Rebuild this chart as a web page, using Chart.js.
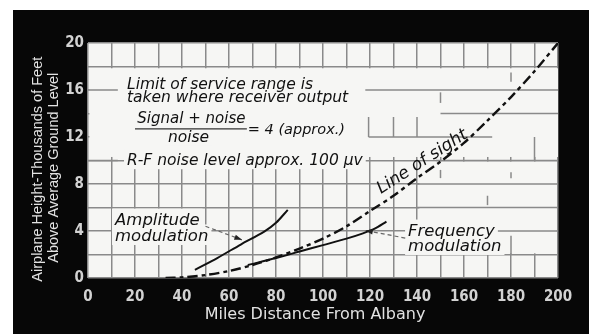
<!DOCTYPE html>
<html>
<head>
<meta charset="utf-8">
<script src="https://cdn.jsdelivr.net/npm/chart.js@4.4.1/dist/chart.umd.min.js"></script>
<style>
html,body{margin:0;padding:0;background:#fff;overflow:hidden}
canvas{display:block}
</style>
</head>
<body>
<canvas id="c" width="591" height="334"></canvas>
<script>
// Service range of AM and FM vs airplane height, with the line-of-sight limit.
var xTicks=[0,20,40,60,80,100,120,140,160,180,200];
var yTicks=[0,4,8,12,16,20];

var losMiles=[33,40,50,60,70,80,90,100,110,120,130,140,150,160,170,180,190,200];
var losFeet =[0,0.05,0.25,0.6,1.1,1.75,2.5,3.35,4.4,5.7,7.0,8.5,9.9,11.5,13.4,15.4,17.6,20];
var amMiles=[45.5,55,65,75,80,85];
var amFeet =[0.7,1.7,2.85,3.95,4.7,5.8];
var fmMiles=[68,80,90,100,110,117,122,127];
var fmFeet =[1.1,1.7,2.25,2.8,3.35,3.8,4.2,4.8];
// dashed pointers from the labels to their curves (tail, head)
var amPointer=[[50,4.4],[65.5,3.25]];
var fmPointer=[[135,3.4],[118,4.05]];

function zip(xs,ys){return xs.map(function(x,i){return {x:x,y:ys[i]};});}
function pts(a){return a.map(function(p){return {x:p[0],y:p[1]};});}

function ital(px){return "italic "+px+"px 'DejaVu Sans'";}
// lettering, anchored at left baseline in chart units (miles, thousand ft)
var notes=[
  {t:"Limit of service range is",x:16.6,y:16.1,s:15.5},
  {t:"taken where receiver output",x:16.6,y:15.0,s:15.5},
  {t:"Signal + noise",x:21,y:13.2,s:15},
  {t:"noise",x:34,y:11.6,s:15.5},
  {t:"= 4 (approx.)",x:68,y:12.25,s:14.5},
  {t:"R-F noise level approx. 100 \u03bcv",x:16.6,y:9.6,s:15.5},
  {t:"Amplitude",x:11.5,y:4.5,s:16.5},
  {t:"modulation",x:11.5,y:3.15,s:16.5},
  {t:"Frequency",x:136.2,y:3.57,s:16.5},
  {t:"modulation",x:136.2,y:2.3,s:16.5},
  {t:"Line of sight",x:124.7,y:7.15,s:17,rot:-33}
];
var fracBar=[[20,12.7],[67.6,12.7]];
// parts of the grid hidden behind the lettering
var blanks=[[0.6,10.3,200,17.85],[141,2.1,199.5,9.9]];
// grid fragments left showing inside the blank areas
var gridBits=[
  [[0,16],[12.7,16]],[[0,10],[12.7,10]],
  [[118,16],[200,16]],[[150,14],[200,14]],[[119.4,12],[172,12]],[[148,10],[200,10]],
  [[119.4,12],[119.4,13.7]],[[130,12],[130,13.7]],[[140,12],[140,13.7]],
  [[150,14.9],[150,15.8]],[[180,16.7],[180,17.5]],[[190,10],[190,12]],
  [[140,8],[200,8]],[[140,6],[200,6]],[[140,4],[200,4]],
  [[150,8.5],[150,9.2]],[[170,6.2],[170,7]],[[180,8.5],[180,9]],[[180,2],[180,3.6]]
];

var frame={
  id:'frame',
  beforeDraw:function(ch){
    var c=ch.ctx,a=ch.chartArea;
    c.save();
    c.fillStyle='#fff';c.fillRect(0,0,ch.width,ch.height);
    c.fillStyle='#070707';c.fillRect(13,10,576,324);
    c.fillStyle='#f6f6f4';c.fillRect(a.left,a.top,a.right-a.left,a.bottom-a.top);
    c.restore();
  },
  beforeDatasetsDraw:function(ch){
    var c=ch.ctx,X=ch.scales.x,Y=ch.scales.y;
    c.save();
    c.fillStyle='#f6f6f4';
    blanks.forEach(function(b){
      var x0=X.getPixelForValue(b[0]),x1=X.getPixelForValue(b[2]);
      var y0=Y.getPixelForValue(b[3]),y1=Y.getPixelForValue(b[1]);
      c.fillRect(x0,y0,x1-x0,y1-y0);
    });
    c.strokeStyle='#8a8a8a';c.lineWidth=1.5;
    gridBits.forEach(function(s){
      c.beginPath();
      c.moveTo(X.getPixelForValue(s[0][0]),Y.getPixelForValue(s[0][1]));
      c.lineTo(X.getPixelForValue(s[1][0]),Y.getPixelForValue(s[1][1]));
      c.stroke();
    });
    // plain ground under the labels
    notes.forEach(function(n){
      if(n.rot)return;
      c.font=ital(n.s);
      var w=c.measureText(n.t).width;
      c.fillRect(X.getPixelForValue(n.x)-3,Y.getPixelForValue(n.y)-n.s,w+6,n.s+4);
    });
    c.restore();
  },
  afterDatasetsDraw:function(ch){
    var c=ch.ctx,X=ch.scales.x,Y=ch.scales.y;
    c.save();
    c.fillStyle='#111';c.textBaseline='alphabetic';
    notes.forEach(function(n){
      var px=X.getPixelForValue(n.x),py=Y.getPixelForValue(n.y);
      c.save();c.translate(px,py);
      if(n.rot)c.rotate(n.rot*Math.PI/180);
      c.font=ital(n.s);
      c.fillText(n.t,0,0);
      c.restore();
    });
    c.strokeStyle='#333';c.lineWidth=1.3;
    c.beginPath();
    c.moveTo(X.getPixelForValue(fracBar[0][0]),Y.getPixelForValue(fracBar[0][1]));
    c.lineTo(X.getPixelForValue(fracBar[1][0]),Y.getPixelForValue(fracBar[1][1]));
    c.stroke();
    [amPointer,fmPointer].forEach(function(p){
      var x0=X.getPixelForValue(p[0][0]),y0=Y.getPixelForValue(p[0][1]);
      var x1=X.getPixelForValue(p[1][0]),y1=Y.getPixelForValue(p[1][1]);
      var ang=Math.atan2(y1-y0,x1-x0);
      c.fillStyle='#222';
      c.beginPath();
      c.moveTo(x1,y1);
      c.lineTo(x1-8*Math.cos(ang-0.35),y1-8*Math.sin(ang-0.35));
      c.lineTo(x1-8*Math.cos(ang+0.35),y1-8*Math.sin(ang+0.35));
      c.closePath();c.fill();
    });
    c.restore();
  }
};

var tickFont={family:"'Liberation Sans Narrow','DejaVu Sans Condensed',sans-serif",size:15,weight:'bold'};

new Chart(document.getElementById('c'),{
  type:'scatter',
  data:{datasets:[
    {label:'Line of sight',data:zip(losMiles,losFeet),showLine:true,borderColor:'#111',borderWidth:2.4,borderDash:[10,4,4,4],pointRadius:0,tension:0.3},
    {label:'Amplitude modulation',data:zip(amMiles,amFeet),showLine:true,borderColor:'#111',borderWidth:2,pointRadius:0,tension:0.3},
    {label:'Frequency modulation',data:zip(fmMiles,fmFeet),showLine:true,borderColor:'#111',borderWidth:2,pointRadius:0,tension:0.3},
    {label:'am pointer',data:pts(amPointer),showLine:true,borderColor:'#666',borderWidth:1.2,borderDash:[4,3],pointRadius:0},
    {label:'fm pointer',data:pts(fmPointer),showLine:true,borderColor:'#666',borderWidth:1.2,borderDash:[4,3],pointRadius:0}
  ]},
  options:{
    responsive:false,animation:false,devicePixelRatio:1,
    layout:{padding:{left:13,right:33,top:43,bottom:0}},
    plugins:{legend:{display:false},tooltip:{enabled:false}},
    scales:{
      x:{type:'linear',min:0,max:200,
        afterFit:function(s){s.height=56;},
        border:{display:false},
        grid:{color:'#8a8a8a',lineWidth:1.5,drawTicks:false},
        ticks:{stepSize:10,autoSkip:false,maxRotation:0,padding:10,color:'#d2d2d2',font:tickFont,
          callback:function(v){return xTicks.indexOf(v)>=0?String(v):'';}},
        title:{display:true,text:'Miles Distance From Albany\u2003',color:'#e2e2e2',
          font:{family:"'DejaVu Sans',sans-serif",size:16},padding:{top:0,bottom:10}}
      },
      y:{type:'linear',min:0,max:20,
        afterFit:function(s){s.width=75;},
        border:{display:false},
        grid:{color:'#8a8a8a',lineWidth:1.5,drawTicks:false},
        ticks:{stepSize:2,autoSkip:false,padding:4,color:'#d2d2d2',font:tickFont,
          callback:function(v){return yTicks.indexOf(v)>=0?String(v):'';}},
        // trailing spaces push the rotated lines a little lower on the axis
        title:{display:true,text:['Airplane Height-Thousands of Feet\u2003\u2009','Above Average Ground Level\u2003'],color:'#e2e2e2',
          font:{family:"'Liberation Sans',sans-serif",size:14.5,lineHeight:1.1},padding:{top:17,bottom:0}}
      }
    }
  },
  plugins:[frame]
});
</script>
</body>
</html>
